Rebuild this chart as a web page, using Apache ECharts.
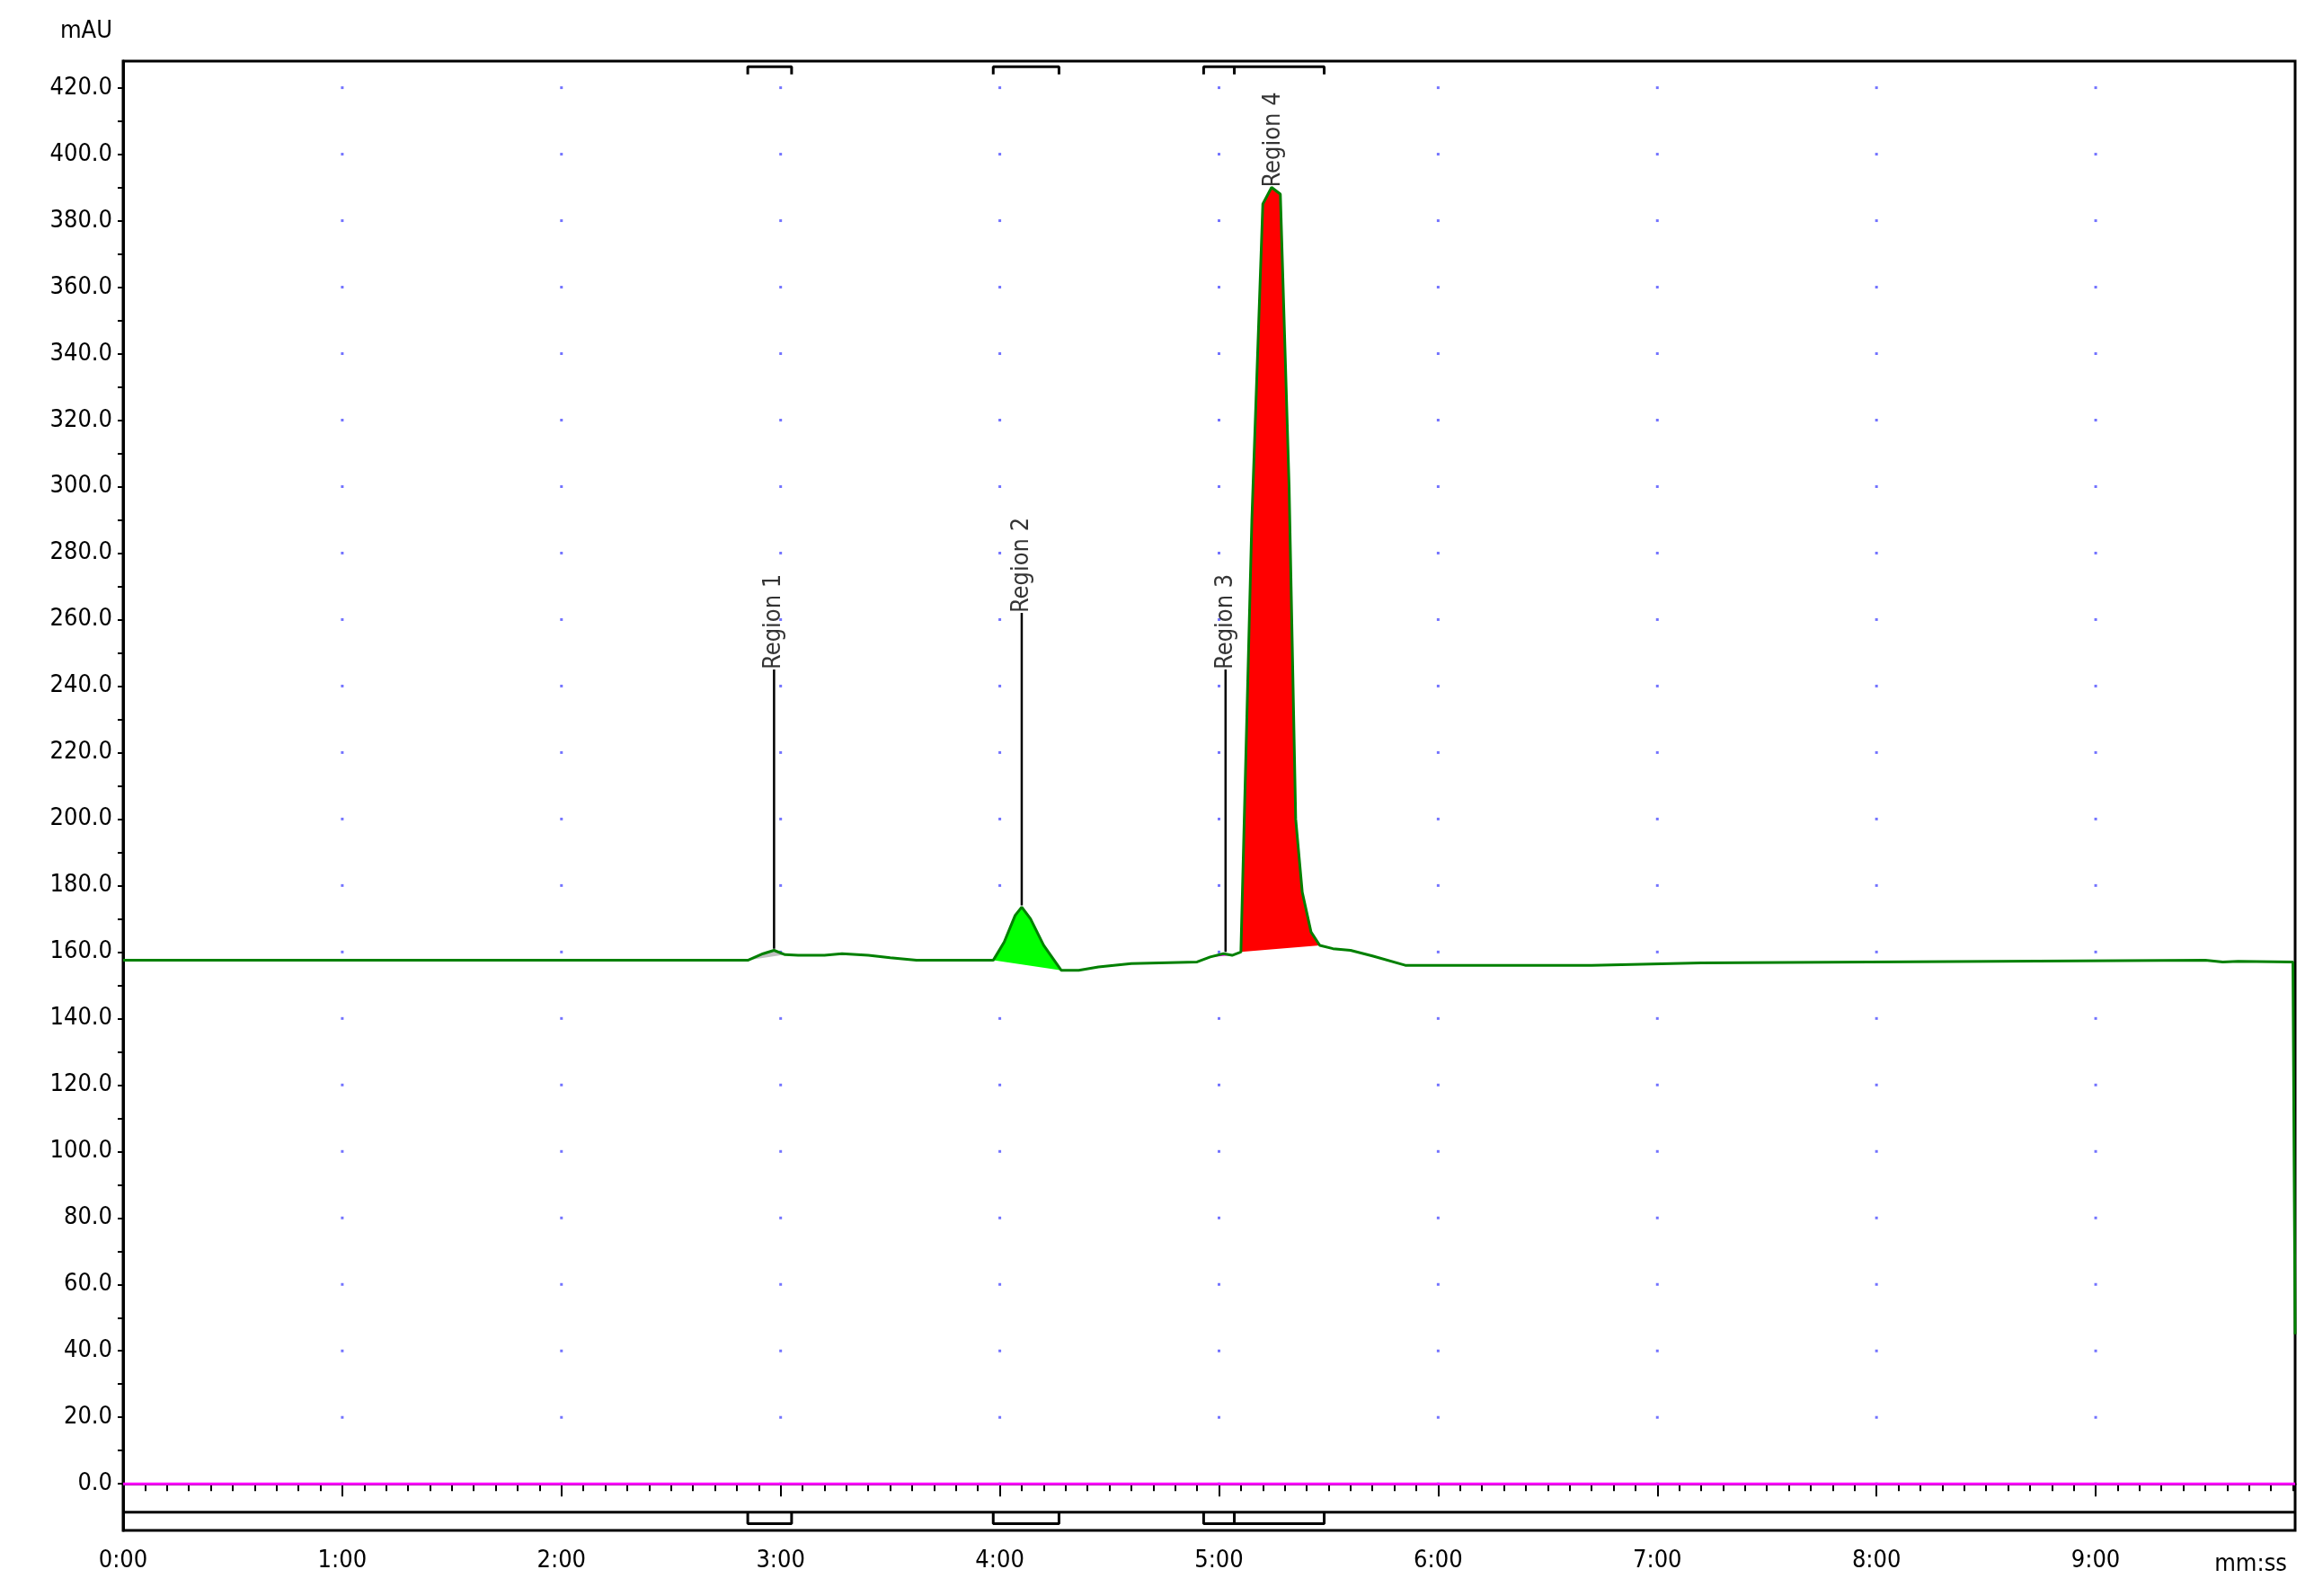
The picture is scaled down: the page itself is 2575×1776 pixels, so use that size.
<!DOCTYPE html>
<html><head><meta charset="utf-8">
<script src="https://cdn.jsdelivr.net/npm/echarts@6/dist/echarts.min.js"></script>
<style>html,body{margin:0;background:#fff}#c{width:2575px;height:1776px}</style>
</head><body><div id="c"></div>
<script>
var myChart = echarts.init(document.getElementById('c'));

// time in minutes, signal in mAU
var times = [0, 2.85, 2.92, 2.97, 3.02, 3.08, 3.2, 3.28, 3.4, 3.5, 3.62, 3.97, 4.02, 4.07, 4.1, 4.14, 4.2, 4.28, 4.36, 4.45, 4.6, 4.9, 4.96, 5.02, 5.06, 5.1, 5.15, 5.2, 5.24, 5.28, 5.32, 5.35, 5.38, 5.42, 5.46, 5.52, 5.6, 5.7, 5.85, 6.7, 7.2, 9.5, 9.58, 9.65, 9.9, 9.905, 9.91];
var signal = [157.5, 157.5, 159.5, 160.5, 159.2, 159, 159, 159.5, 159, 158.3, 157.5, 157.5, 163, 171, 173.5, 170, 162, 154.5, 154.5, 155.5, 156.5, 157, 158.5, 159.5, 159, 160, 290, 385, 390, 388, 300, 200, 178, 166, 162, 161, 160.5, 158.8, 156, 156, 156.7, 157.5, 157, 157.2, 157, 157, 45];
var peaks = [
  { name: 'Region 1', color: '#c0c0c0', from: 2.85, to: 3.02 },
  { name: 'Region 2', color: '#00ff00', from: 3.97, to: 4.28 },
  { name: 'Region 3', color: '#ff00ff', from: 4.96, to: 5.06 },
  { name: 'Region 4', color: '#ff0000', from: 5.1, to: 5.46 }
];
var labelX = [2.97, 4.1, 5.03, 5.25];
var labelFrom = [161, 174, 160, 390];
var labelTo = [245, 262, 245, 390];
var brackets = [[2.85, 3.05], [3.97, 4.27], [4.93, 5.07], [5.07, 5.48]];
var yTicks = [0, 20, 40, 60, 80, 100, 120, 140, 160, 180, 200, 220, 240, 260, 280, 300, 320, 340, 360, 380, 400, 420];
var yMinor = [10, 30, 50, 70, 90, 110, 130, 150, 170, 190, 210, 230, 250, 270, 290, 310, 330, 350, 370, 390, 410];
var minutes = [0, 1, 2, 3, 4, 5, 6, 7, 8, 9];

function sigAt(t) {
  for (var i = 0; i < times.length - 1; i++) {
    if (t >= times[i] && t <= times[i + 1]) {
      var f = (t - times[i]) / (times[i + 1] - times[i]);
      return signal[i] + f * (signal[i + 1] - signal[i]);
    }
  }
  return signal[signal.length - 1];
}

var series = [];
// peak fills: polygon between curve and the straight integration baseline
peaks.forEach(function (p) {
  var pts = [p.from].concat(times.filter(function (t) { return t > p.from && t < p.to; })).concat([p.to]);
  var poly = pts.map(function (t) { return [t, sigAt(t)]; });
  poly.push([p.to, sigAt(p.to)], [p.from, sigAt(p.from)]);
  series.push({
    type: 'custom', data: poly, silent: true, z: 1,
    renderItem: function (params, api) {
      if (params.dataIndex !== 0) return;
      return { type: 'polygon', shape: { points: poly.map(function (d) { return api.coord(d); }) }, style: { fill: p.color } };
    }
  });
});

var dots = [];
minutes.slice(1).forEach(function (m) { yTicks.forEach(function (v) { dots.push([m, v]); }); });
series.push({ type: 'scatter', data: dots, symbol: 'rect', symbolSize: 3, itemStyle: { color: '#5050ff' }, silent: true, z: 0 });

series.push({ type: 'line', data: [[0, 0], [9.91, 0]], symbol: 'none', lineStyle: { color: '#ff00ff', width: 3 }, z: 2 });
series.push({ type: 'line', data: times.map(function (t, i) { return [t, signal[i]]; }), symbol: 'none', lineStyle: { color: '#008000', width: 3 }, z: 3 });

var topBr = [], botBr = [];
brackets.forEach(function (b) {
  topBr.push([b[0], 424], [b[0], 426.3], [b[1], 426.3], [b[1], 424], [null, null]);
  botBr.push([b[0], -8.5], [b[0], -12], [b[1], -12], [b[1], -8.5], [null, null]);
});
series.push({ type: 'line', data: topBr, symbol: 'none', connectNulls: false, lineStyle: { color: '#000', width: 3 }, z: 4 });
series.push({ type: 'line', data: botBr, symbol: 'none', connectNulls: false, lineStyle: { color: '#000', width: 3 }, z: 4 });
series.push({ type: 'line', data: [[0, -8.5], [9.91, -8.5]], symbol: 'none', lineStyle: { color: '#000', width: 3 }, z: 4 });

var lblLines = [];
labelX.forEach(function (x, i) { if (labelTo[i] > labelFrom[i]) lblLines.push([x, labelFrom[i]], [x, labelTo[i]], [null, null]); });
series.push({ type: 'line', data: lblLines, symbol: 'none', connectNulls: false, lineStyle: { color: '#000', width: 2.5 }, z: 5 });
series.push({
  type: 'scatter', symbolSize: 0, z: 6,
  data: peaks.map(function (p, i) { return { value: [labelX[i], labelTo[i]], name: p.name }; }),
  label: { show: true, position: [0, 0], rotate: 90, align: 'left', verticalAlign: 'middle', formatter: '{b}', color: '#000', fontSize: 27, fontFamily: 'DejaVu Sans Condensed' }
});

option = {
  animation: false,
  backgroundColor: '#fff',
  graphic: [{ type: 'text', right: 30, bottom: 22, style: { text: 'mm:ss', fontSize: 27, fontFamily: 'DejaVu Sans Condensed', fill: '#000' } }],
  grid: { left: 137, right: 21, top: 68, bottom: 73, show: true, borderColor: '#000', borderWidth: 3 },
  xAxis: {
    type: 'value', min: 0, max: 9.91, interval: 1,
    axisLine: { lineStyle: { color: '#000', width: 3 } },
    axisTick: { lineStyle: { color: '#000', width: 2 }, length: 14 },
    minorTick: { show: true, splitNumber: 10, length: 8, lineStyle: { color: '#000', width: 2 } },
    axisLabel: { fontSize: 27, fontFamily: 'DejaVu Sans Condensed', color: '#000', margin: 20, formatter: function (v) { return v >= 9.9 ? '' : Math.round(v) + ':00'; } },
    splitLine: { show: false }
  },
  yAxis: {
    type: 'value', min: -14, max: 428,
    name: 'mAU', nameLocation: 'end', nameGap: 20,
    nameTextStyle: { fontSize: 27, fontFamily: 'DejaVu Sans Condensed', color: '#000', align: 'right', padding: [0, 12, 0, 0] },
    axisLine: { lineStyle: { color: '#000', width: 3 } },
    axisTick: { customValues: yTicks.concat(yMinor), length: 6, lineStyle: { color: '#000', width: 2 } },
    axisLabel: { customValues: yTicks, fontSize: 27, fontFamily: 'DejaVu Sans Condensed', color: '#000', margin: 12, formatter: function (v) { return v.toFixed(1); } },
    splitLine: { show: false }
  },
  series: series
};
myChart.setOption(option);
</script></body></html>
